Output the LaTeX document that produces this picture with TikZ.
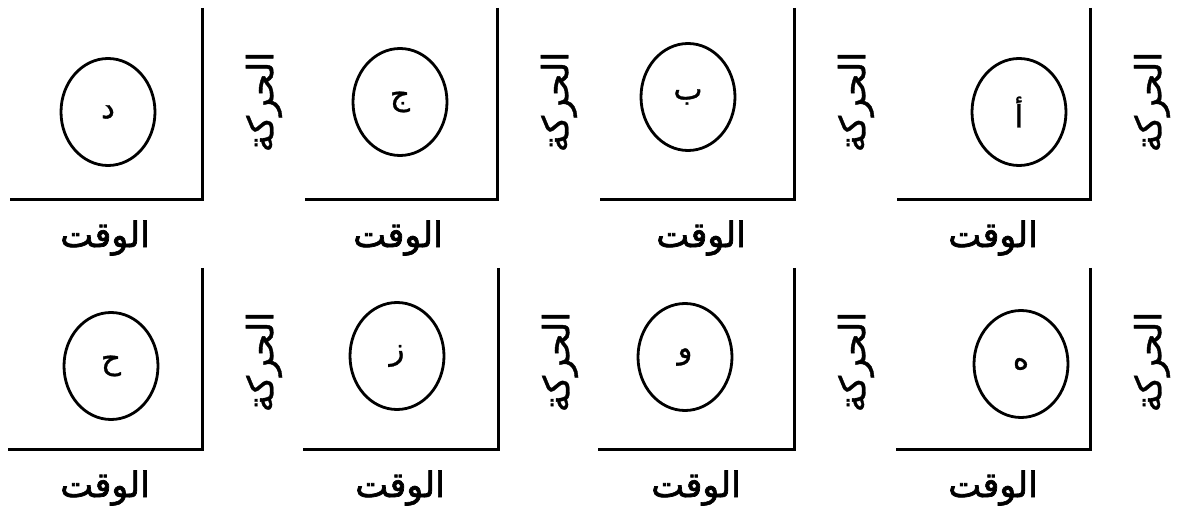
\documentclass[tikz,border=0pt]{standalone}
\usepackage{fontspec}
\usetikzlibrary{shapes.geometric}
\TeXXeTstate=1
\newfontfamily\arabicfont[Script=Arabic,FakeBold=1]{DejaVu Sans}
\newfontfamily\arabicbold[Script=Arabic,FakeBold=2]{DejaVu Sans}
\tikzset{
  axisline/.style={line width=3pt},
  bubble/.style={ellipse, draw, line width=2.8pt, minimum width=94pt, minimum height=107pt, inner sep=0pt, font=\arabicfont\fontsize{31}{36}\selectfont},
  timelabel/.style={font=\arabicbold\fontsize{35}{40}\selectfont, inner sep=0pt},
  motionlabel/.style={rotate=90, font=\arabicfont\fontsize{36}{40}\selectfont, inner sep=0pt}
}
% #1 id, #2 vline x, #3 top y, #4 bottom y, #5 left x, #6 circle x, #7 circle y, #8 letter, #9 time x
\newcommand{\mypanel}[9]{%
  \coordinate (#1top) at (#2,#3);
  \coordinate (#1corner) at (#2,#4);
  \coordinate (#1left) at (#5,#4);
  \draw[axisline] (#1top) -- (#1corner) -- (#1left);
  \node[bubble] (#1c) at (#6,#7) {\beginR #8\endR};
  \node[timelabel] (#1t) at (#9,#4+38) {\beginR الوقت\endR};
  \node[motionlabel] (#1m) at (#2+62,#3+94) {\beginR الحركة\endR};
}
\begin{document}
\begin{tikzpicture}[x=1pt,y=-1pt]
\useasboundingbox (0,0) rectangle (1187,518);
\mypanel{d}{202}{8}{200}{10}{108}{112}{د}{105}
\mypanel{j}{497}{8}{200}{305}{400}{102}{ج}{398}
\mypanel{b}{794}{8}{200}{600}{688}{97}{ب}{701}
\mypanel{a}{1090}{8}{200}{897}{1019}{112}{أ}{993}
\mypanel{h}{202}{268}{450}{8}{111}{366}{ح}{105}
\mypanel{z}{498}{268}{450}{303}{397}{356}{ز}{400}
\mypanel{w}{794}{268}{450}{598}{685}{357}{و}{696}
\mypanel{e}{1090}{268}{450}{896}{1021}{364}{ه}{993}
\end{tikzpicture}
\end{document}
